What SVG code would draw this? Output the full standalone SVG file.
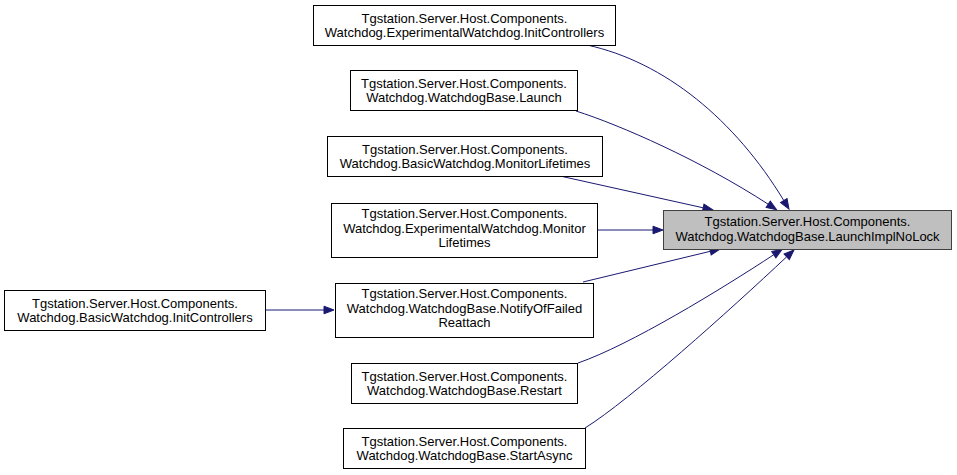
<svg xmlns="http://www.w3.org/2000/svg" width="957" height="475" viewBox="0 0 957 475">
<defs>
<marker id="ah" markerUnits="userSpaceOnUse" markerWidth="12" markerHeight="10" refX="0" refY="0" viewBox="0 -5 12 10" orient="auto" overflow="visible">
<path d="M0,-3.8 L10,0 L0,3.8 z" fill="#191970" stroke="#191970" stroke-width="1"/>
</marker>
<style>
.n rect{fill:#ffffff;stroke:#000000;stroke-width:1}
.n.t rect{fill:#bfbfbf;stroke:#404040}
.n text{font-family:"Liberation Sans",Arial,sans-serif;font-size:13px;fill:#000000;text-anchor:middle}
.e path{fill:none;stroke:#191970;stroke-width:1;marker-end:url(#ah)}
</style>
</defs>
<rect width="957" height="475" fill="#ffffff"/>
<g id="edges" class="e">
<path d="M587,45 C665,62 735,120 783.8,200.5"/>
<path d="M576,111 C620,125 700,160 768.2,204.2"/>
<path d="M560,176 L703.2,207.8"/>
<path d="M598,230 L653,230"/>
<path d="M583,282 L710.3,251.3"/>
<path d="M578,363 C630,345 720,290 773.8,254.7"/>
<path d="M585,428 C630,400 730,310 786.7,256.8"/>
<path d="M266,310 L324,310"/>
</g>
<g id="node_target" class="n t">
<rect x="663.5" y="210.5" width="288" height="39"/>
<text x="807.5" y="225.5">Tgstation.Server.Host.Components.</text>
<text x="807.5" y="240.5">Watchdog.WatchdogBase.LaunchImplNoLock</text>
</g>
<g id="node_exp_init" class="n">
<rect x="313.5" y="5.5" width="302" height="40"/>
<text x="464.5" y="22.7">Tgstation.Server.Host.Components.</text>
<text x="464.5" y="37.3">Watchdog.ExperimentalWatchdog.InitControllers</text>
</g>
<g id="node_launch" class="n">
<rect x="350.5" y="70.5" width="227" height="40"/>
<text x="464" y="87.7">Tgstation.Server.Host.Components.</text>
<text x="464" y="102.3">Watchdog.WatchdogBase.Launch</text>
</g>
<g id="node_basic_monitor" class="n">
<rect x="327.5" y="136.5" width="275" height="40"/>
<text x="465" y="153.7">Tgstation.Server.Host.Components.</text>
<text x="465" y="168.3">Watchdog.BasicWatchdog.MonitorLifetimes</text>
</g>
<g id="node_exp_monitor" class="n">
<rect x="331.5" y="203.5" width="266" height="54"/>
<text x="464.5" y="218">Tgstation.Server.Host.Components.</text>
<text x="464.5" y="232.6">Watchdog.ExperimentalWatchdog.Monitor</text>
<text x="464.5" y="247.2">Lifetimes</text>
</g>
<g id="node_notify" class="n">
<rect x="335.5" y="283.5" width="258" height="54"/>
<text x="464.5" y="298">Tgstation.Server.Host.Components.</text>
<text x="464.5" y="312.6">Watchdog.WatchdogBase.NotifyOfFailed</text>
<text x="464.5" y="327.2">Reattach</text>
</g>
<g id="node_restart" class="n">
<rect x="351.5" y="363.5" width="226" height="40"/>
<text x="464.5" y="380.7">Tgstation.Server.Host.Components.</text>
<text x="464.5" y="395.3">Watchdog.WatchdogBase.Restart</text>
</g>
<g id="node_startasync" class="n">
<rect x="343.5" y="428.5" width="242" height="40"/>
<text x="464.5" y="445.7">Tgstation.Server.Host.Components.</text>
<text x="464.5" y="460.3">Watchdog.WatchdogBase.StartAsync</text>
</g>
<g id="node_basic_init" class="n">
<rect x="4.5" y="290.5" width="261" height="40"/>
<text x="135" y="307.7">Tgstation.Server.Host.Components.</text>
<text x="135" y="322.3">Watchdog.BasicWatchdog.InitControllers</text>
</g>
</svg>
